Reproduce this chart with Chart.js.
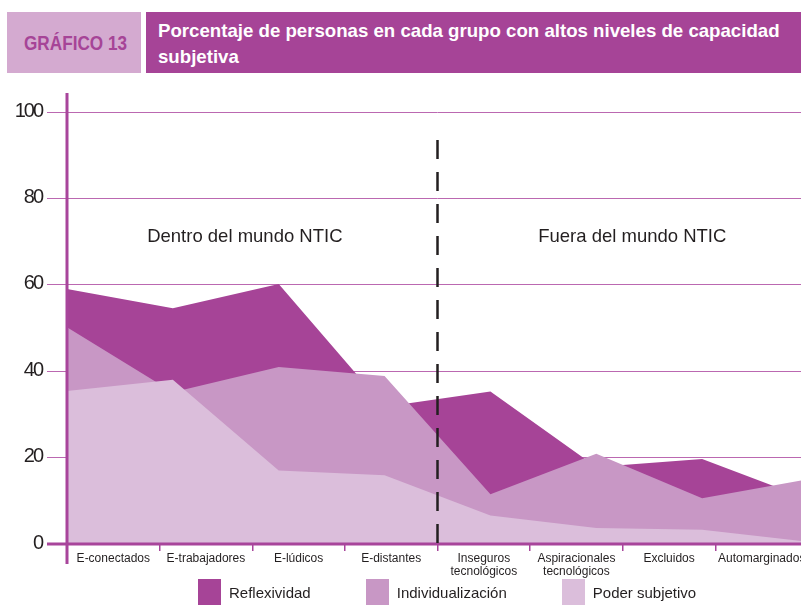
<!DOCTYPE html>
<html>
<head>
<meta charset="utf-8">
<script src="https://cdn.jsdelivr.net/npm/chart.js@4"></script>
<style>
  body { margin: 0; width: 801px; height: 605px; overflow: hidden; background: #fff; position: relative; font-family: "Liberation Sans", Arial, sans-serif; }
  #wrap { position: absolute; left: 0; top: 0; width: 810px; height: 605px; }
  .tag { position: absolute; left: 7px; top: 12px; width: 134px; height: 61px; background: #d4aad0; }
  .head { position: absolute; left: 146px; top: 12px; width: 655px; height: 61px; background: #a64497; }
  .fit { position: absolute; white-space: nowrap; font-weight: bold; line-height: 1; transform-origin: 0 0; }
  #legend { position: absolute; left: 198px; top: 579px; display: flex; }
  .item { display: flex; align-items: center; margin-right: 55px; font-size: 15px; color: #231f20; }
  .box { width: 23px; height: 26px; margin-right: 8px; }
</style>
</head>
<body>
<div class="tag"></div>
<div class="head"></div>
<span class="fit" id="t0" style="left:24px; top:32.6px; font-size:20.5px; color:#a64497" data-w="103">GRÁFICO 13</span>
<span class="fit" id="t1" style="left:157.5px; top:20.6px; font-size:19px; color:#fff" data-w="622">Porcentaje de personas en cada grupo con altos niveles de capacidad</span>
<span class="fit" id="t2" style="left:157.5px; top:47.2px; font-size:19px; color:#fff">subjetiva</span>
<div id="wrap"><canvas id="chart" width="810" height="605"></canvas></div>
<div id="legend"></div>
<script>
const categories = ["E-conectados", "E-trabajadores", "E-lúdicos", "E-distantes",
  ["Inseguros", "tecnológicos"], ["Aspiracionales", "tecnológicos"], "Excluidos", "Automarginados"];
const reflexividad = [59.0, 54.6, 60.2, 31.8, 35.3, 17.8, 19.7, 10.4];
const individualizacion = [50.2, 35.1, 41.0, 38.9, 11.5, 20.9, 10.6, 15.0];
const poderSubjetivo = [35.4, 38.0, 17.0, 15.9, 6.6, 3.7, 3.3, 0.5];
const yTicks = [0, 20, 40, 60, 80, 100];
const seriesNames = ["Reflexividad", "Individualización", "Poder subjetivo"];
const seriesColors = ["#a64497", "#c897c5", "#dbbedb"];
const zoneLabels = ["Dentro del mundo NTIC", "Fuera del mundo NTIC"];

const axisColor = "#a8459b";
const gridColor = "#bb68b1";
const textColor = "#231f20";

// the title font is a condensed one: squeeze the spans to the reference width
let t1 = document.getElementById("t1");
let sq = t1.dataset.w / t1.offsetWidth;
t1.style.transform = `scaleX(${sq})`;
document.getElementById("t2").style.transform = `scaleX(${sq})`;
let t0 = document.getElementById("t0");
t0.style.transform = `scaleX(${t0.dataset.w / t0.offsetWidth})`;

// tight digits on the y axis, x labels are drawn later (z: 1) with normal spacing
const tracking = {
  id: "tracking",
  beforeDraw(c) { c.ctx.letterSpacing = "-2px"; },
  beforeDatasetsDraw(c) { c.ctx.letterSpacing = "0px"; }
};

// axes, dashed divider and the two zone captions
const decor = {
  id: "decor",
  afterDatasetsDraw(c) {
    let ctx = c.ctx, area = c.chartArea, y = c.scales.y, xl = c.scales.xl, x = c.scales.x;
    let y0 = y.getPixelForValue(0);
    ctx.save();
    ctx.strokeStyle = axisColor;
    ctx.lineWidth = 3;
    ctx.beginPath();
    ctx.moveTo(area.left - 20, y0);
    ctx.lineTo(area.right, y0);
    ctx.stroke();
    ctx.beginPath();
    ctx.moveTo(area.left, area.top);
    ctx.lineTo(area.left, y0 + 20);
    ctx.stroke();

    let xd = (xl.getPixelForValue(3) + xl.getPixelForValue(4)) / 2;
    ctx.strokeStyle = textColor;
    ctx.lineWidth = 2.5;
    ctx.setLineDash([19, 13]);
    ctx.beginPath();
    ctx.moveTo(xd, y.getPixelForValue(93.5));
    ctx.lineTo(xd, y0);
    ctx.stroke();
    ctx.setLineDash([]);

    ctx.fillStyle = textColor;
    ctx.font = '18.5px "Liberation Sans", Arial, sans-serif';
    ctx.textAlign = "center";
    ctx.textBaseline = "middle";
    ctx.fillText(zoneLabels[0], x.getPixelForValue(1.68), y.getPixelForValue(71));
    ctx.fillText(zoneLabels[1], x.getPixelForValue(5.34), y.getPixelForValue(71));
    ctx.restore();
  }
};

const seriesData = [reflexividad, individualizacion, poderSubjetivo];

chart = new Chart(document.getElementById("chart"), {
  type: "line",
  data: {
    labels: categories.map(c => Array.isArray(c) ? c.join(" ") : c),
    datasets: seriesNames.map((name, i) => ({
      label: name,
      data: seriesData[i],
      backgroundColor: seriesColors[i],
      borderWidth: 0,
      pointRadius: 0,
      tension: 0,
      fill: "origin",
      order: 3 - i
    }))
  },
  options: {
    responsive: false,
    devicePixelRatio: 1,
    animation: false,
    layout: { padding: { top: 93, left: 0, right: 2, bottom: 27 } },
    plugins: { legend: { display: false }, tooltip: { enabled: false } },
    scales: {
      x: { type: "category", display: false, offset: false },
      xl: {
        type: "category",
        position: "bottom",
        labels: categories,
        min: 0, max: 7,
        offset: true,
        grid: { offset: true, drawOnChartArea: false, drawTicks: true, tickLength: 7, color: axisColor, lineWidth: 1.5 },
        border: { display: false },
        ticks: { color: textColor, font: { family: '"Liberation Sans", Arial, sans-serif', size: 12, lineHeight: 1.1 },
                 padding: 1, maxRotation: 0, autoSkip: false, z: 1 },
        afterFit(s) { s.height = 34; }
      },
      y: {
        min: 0, max: 104.4,
        afterBuildTicks(s) { s.ticks = yTicks.map(v => ({ value: v })); },
        grid: { color: gridColor, lineWidth: 1, tickLength: 20 },
        border: { display: false },
        ticks: { color: textColor, padding: 5, labelOffset: -1,
                 font: { family: '"Liberation Sans", Arial, sans-serif', size: 20 } },
        afterFit(s) { s.width = 67; }
      }
    }
  },
  plugins: [tracking, decor]
});

let legend = document.getElementById("legend");
chart.data.datasets.forEach(d => {
  let item = document.createElement("div");
  item.className = "item";
  item.innerHTML = `<span class="box" style="background:${d.backgroundColor}"></span><span>${d.label}</span>`;
  legend.appendChild(item);
});
</script>
</body>
</html>
